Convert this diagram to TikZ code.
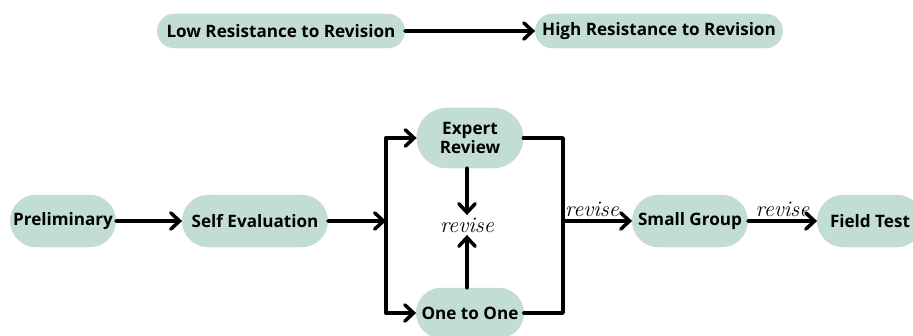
\documentclass[tikz,border=0pt]{standalone}
\usepackage{fontspec}
\setsansfont{Open Sans}
\usepackage{xcolor}
\usetikzlibrary{arrows.meta, shapes.misc}
\definecolor{pillgreen}{HTML}{C2DED2}
\tikzset{
	pill/.style={
			rounded rectangle, fill=pillgreen, draw=pillgreen!85!black!60, line width=0.4pt,
			font=\sffamily\bfseries\fontsize{14.6}{16.5}\selectfont, align=center, inner sep=2pt
		},
	flow/.style={line width=3pt, line cap=round, line join=round,
			-{Straight Barb[length=7.5pt, width=14pt, line width=3pt, line cap=round]}},
	bus/.style={line width=3pt, line cap=round, line join=round},
	handnote/.style={font=\itshape\fontsize{19}{21}\selectfont, inner sep=2pt}
}

\begin{document}
\begin{tikzpicture}[x=0.03cm, y=-0.03cm]
		\useasboundingbox (0,0) rectangle (913,336);
		% top legend
		\node [pill, minimum width=7.56cm, minimum height=1.02cm] (low) at (281,31) {Low Resistance to Revision};
		\node [pill, minimum width=7.56cm, minimum height=1.02cm] (high) at (659,31) {High Resistance to Revision};
		\draw [flow] (low) -- (high);
		% main flow
		\node [pill, minimum width=3.3cm, minimum height=1.56cm] (prelim) at (63,221) {Preliminary};
		\node [pill, minimum width=4.5cm, minimum height=1.56cm] (selfeval) at (255,221) {Self Evaluation};
		\node [pill, minimum width=3.33cm, minimum height=1.8cm] (expert) at (470,138) {Expert\\Review};
		\node [pill, minimum width=3.36cm, minimum height=1.5cm] (onetoone) at (470,313) {One to One};
		\node [handnote] (revmid) at (467,225) {revise};
		\node [pill, minimum width=3.6cm, minimum height=1.56cm] (smallgroup) at (690,221) {Small Group};
		\node [pill, minimum width=3.3cm, minimum height=1.56cm] (fieldtest) at (870,221) {Field Test};
		% left split
		\coordinate (lbus) at (386,221);
		\coordinate (lbusTop) at (386,138);
		\coordinate (lbusBot) at (386,313);
		\draw [flow] (selfeval) -- (lbus);
		\draw [bus] (lbusTop) -- (lbusBot);
		\draw [flow] (lbusTop) -- (expert.west |- lbusTop);
		\draw [flow] (lbusBot) -- (onetoone.west |- lbusBot);
		% revise loop
		\draw [flow] (expert.south -| revmid) -- (revmid.north);
		\draw [flow] (onetoone.north -| revmid) -- (revmid.south);
		% right merge
		\coordinate (rbusTop) at (563,138);
		\coordinate (rbusBot) at (563,313);
		\coordinate (rbus) at (563,221);
		\draw [bus] (expert.east |- rbusTop) -- (rbusTop) -- (rbusBot) -- (onetoone.east |- rbusBot);
		\draw [flow] (rbus) -- node [handnote, above, pos=0.42] (revone) {revise} (smallgroup);
		\draw [flow] (prelim) -- (selfeval);
		\draw [flow] (smallgroup) -- node [handnote, above] (revtwo) {revise} (fieldtest);
	\end{tikzpicture}
\end{document}
